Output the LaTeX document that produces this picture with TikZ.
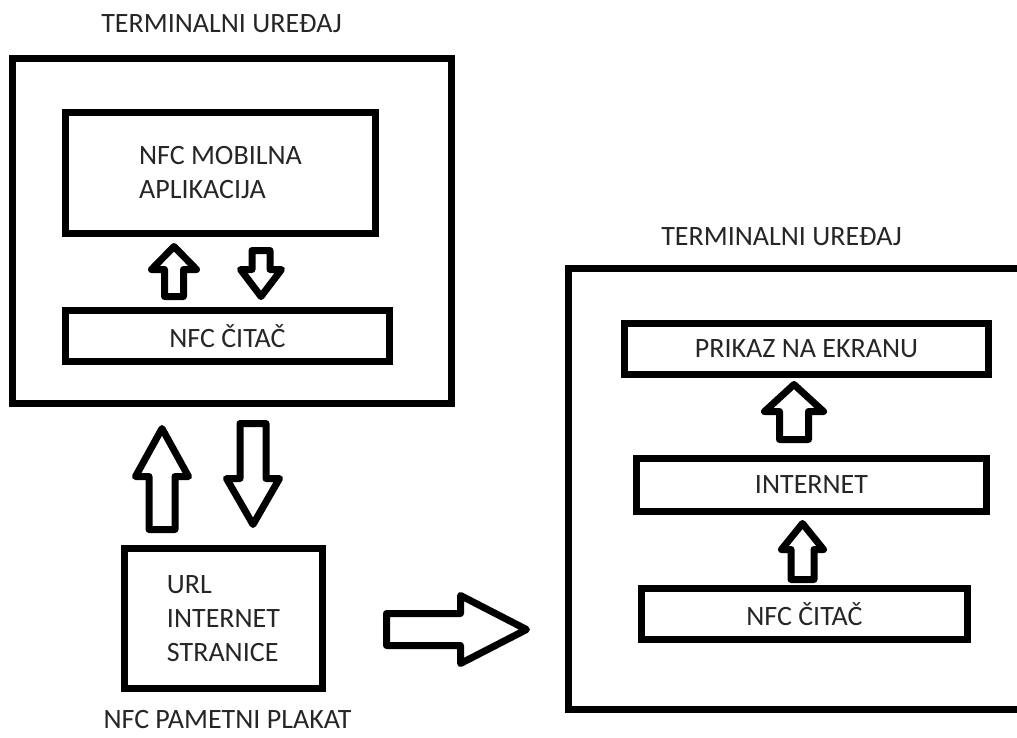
\documentclass[tikz,border=0pt]{standalone}
\usepackage{fontspec}
\setmainfont{Carlito}
\begin{document}
\begin{tikzpicture}
  [x=1pt, y=-1pt,
    font=\fontsize{28}{34}\selectfont, text=black!85,
    box/.style={
      draw, line width=7, inner sep=0pt
    },
    heading/.style={anchor=base, inner sep=0pt},
    pics/blockarrow/.style n args={4}{code={
      \draw[line width=7, line join=round]
        (0,-#2) -- (#1-#4,-#2) -- (#1-#4,-#3) -- (#1,0)
        -- (#1-#4,#3) -- (#1-#4,#2) -- (0,#2) -- cycle;
    }},
  ]
  \clip (0,0) rectangle (1017,738);

  % Left terminal
  \node[heading] (title1) at (221.5,33) {TERMINALNI UREĐAJ};
  \node[box, minimum width=439, minimum height=345] (term1) at (232,231) {};
  \node[box, minimum width=310, minimum height=121, align=left] (app) at (220.5,173)
    {NFC MOBILNA\\APLIKACIJA};
  \node[box, minimum width=324, minimum height=51] (reader1) at (227.5,336) {NFC ČITAČ};

  % Smart poster
  \node[box, minimum width=198, minimum height=140, align=left] (url) at (223.5,618.5)
    {URL\\INTERNET\\STRANICE};
  \node[heading] (poster) at (227.5,728) {NFC PAMETNI PLAKAT};

  % Right terminal
  \node[heading] (title2) at (781.5,245) {TERMINALNI UREĐAJ};
  \node[box, minimum width=456.5, minimum height=441] (term2) at (796.75,489) {};
  \node[box, minimum width=364, minimum height=51] (screen) at (806.5,349) {PRIKAZ NA EKRANU};
  \node[box, minimum width=350, minimum height=53] (inet) at (811.5,485) {INTERNET};
  \node[box, minimum width=326, minimum height=51] (reader2) at (804.5,614) {NFC ČITAČ};

  % Block arrows
  \pic[rotate=90]  at (174,296.5)   {blockarrow={50}{9.5}{22.5}{23}};
  \pic[rotate=-90] at (261,250.5)   {blockarrow={46}{9}{20.5}{27}};
  \pic[rotate=90]  at (162,529.5)   {blockarrow={101}{13}{26.5}{48}};
  \pic[rotate=-90] at (253,423.5)   {blockarrow={101}{13}{26.5}{46}};
  \pic             at (386.5,629.5) {blockarrow={140}{16}{34}{66}};
  \pic[rotate=90]  at (794,439.5)   {blockarrow={55}{14.5}{29.5}{27}};
  \pic[rotate=90]  at (802.5,579.5) {blockarrow={56}{11.5}{21}{26}};
\end{tikzpicture}
\end{document}
